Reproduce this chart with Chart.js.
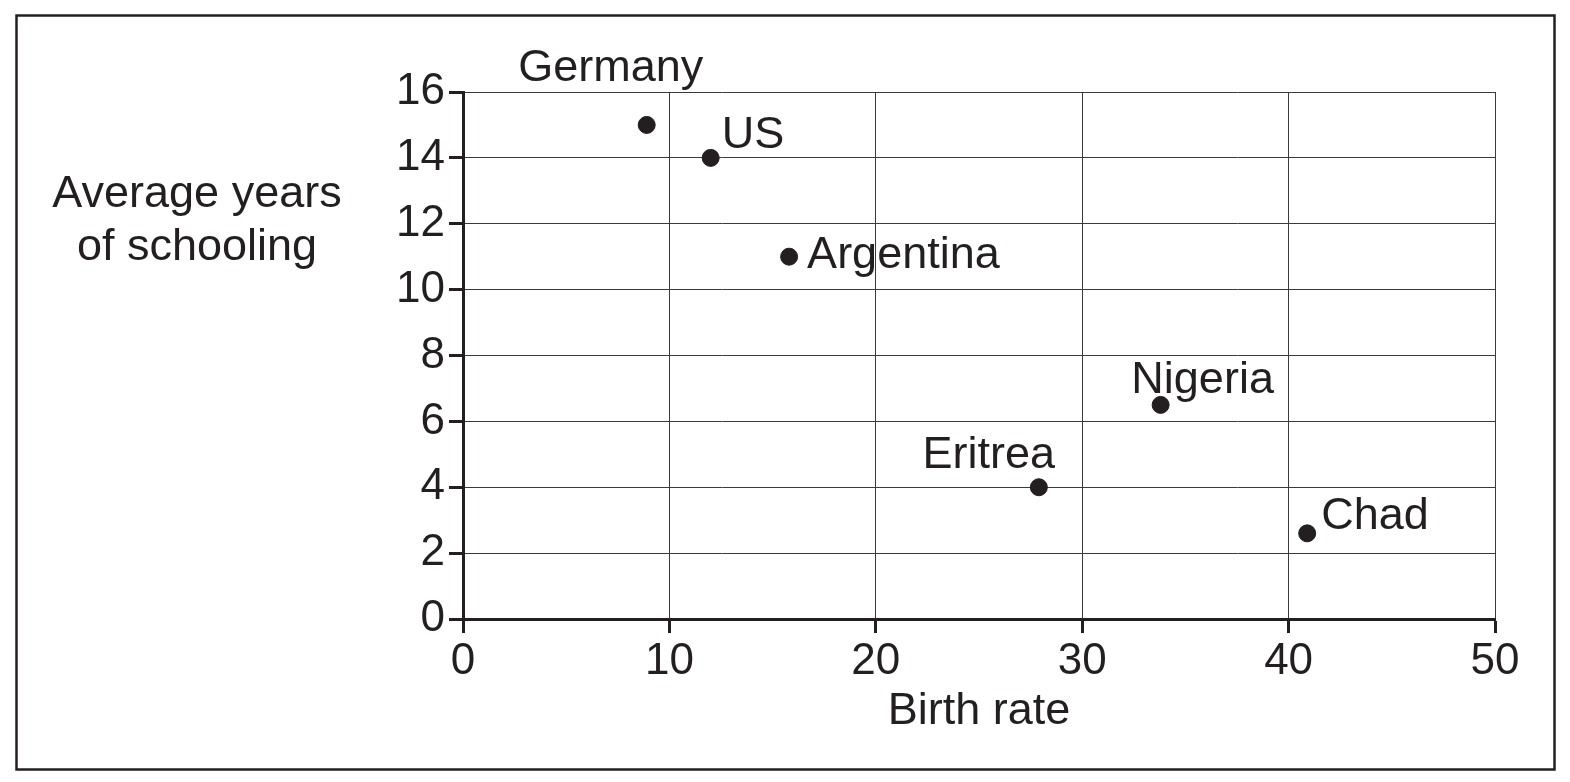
<!DOCTYPE html>
<html>
    <head>
        <title>Birth rate vs schooling</title>
        <meta charset="UTF-8">
        <script src="https://cdn.jsdelivr.net/npm/chart.js@4.4.0/dist/chart.umd.min.js"></script>
        <style>
            body { margin: 0; background: #fff; }
            #wrap { width: 1570px; height: 782px; }
        </style>
    </head>
    <body>
        <div id="wrap">
            <canvas id="scatterChart" width="1570" height="782"></canvas>
        </div>
        <script>
            // data
            const countries = ['Germany', 'US', 'Argentina', 'Eritrea', 'Nigeria', 'Chad'];
            const birthRate = [8.9, 12, 15.8, 27.9, 33.8, 40.9];
            const schooling = [15, 14, 11, 4, 6.5, 2.6];
            const xTicks = [0, 10, 20, 30, 40, 50];
            const yTicks = [0, 2, 4, 6, 8, 10, 12, 14, 16];
            const xTitle = 'Birth rate';
            const yTitle = ['Average years', 'of schooling'];

            const ink = '#231f20';
            const font = '"Liberation Sans", Arial, sans-serif';

            // label placement next to each dot: text align, dx, baseline dy (px)
            const place = {
                Germany:   ['center', -36, -44],
                US:        ['left', 11, -10],
                Argentina: ['left', 18, 11],
                Eritrea:   ['center', -50, -19],
                Nigeria:   ['center', 42, -12],
                Chad:      ['left', 14, -4]
            };

            const points = countries.map((c, i) => ({ x: birthRate[i], y: schooling[i] }));

            const extras = {
                id: 'extras',
                beforeDraw(chart) {
                    const ctx = chart.ctx;
                    ctx.save();
                    ctx.fillStyle = '#fff';
                    ctx.fillRect(0, 0, chart.width, chart.height);
                    ctx.strokeStyle = ink;
                    ctx.lineWidth = 2.5;
                    ctx.strokeRect(16.5, 15.5, 1538, 754);
                    ctx.restore();
                },
                afterDraw(chart) {
                    const ctx = chart.ctx;
                    const xs = chart.scales.x, ys = chart.scales.y;
                    ctx.save();
                    ctx.fillStyle = ink;
                    ctx.font = '45px ' + font;
                    // y title, horizontal, top left
                    ctx.textAlign = 'center';
                    ctx.textBaseline = 'middle';
                    ctx.fillText(yTitle[0], 197, 195);
                    ctx.fillText(yTitle[1], 197, 248);
                    // point labels
                    ctx.textBaseline = 'alphabetic';
                    countries.forEach((c, i) => {
                        const px = xs.getPixelForValue(birthRate[i]);
                        const py = ys.getPixelForValue(schooling[i]);
                        const p = place[c];
                        ctx.textAlign = p[0];
                        ctx.fillText(c, px + p[1], py + p[2]);
                    });
                    ctx.restore();
                }
            };

            new Chart(document.getElementById('scatterChart'), {
                type: 'scatter',
                data: {
                    datasets: [{
                        data: points,
                        pointRadius: 8.5,
                        pointHoverRadius: 8.5,
                        backgroundColor: ink,
                        borderColor: ink
                    }]
                },
                options: {
                    responsive: false,
                    animation: false,
                    events: [],
                    layout: { padding: { top: 92, right: 75, left: 0, bottom: 39 } },
                    plugins: { legend: { display: false }, tooltip: { enabled: false } },
                    scales: {
                        x: {
                            type: 'linear',
                            min: 0,
                            max: 50,
                            afterBuildTicks: s => { s.ticks = xTicks.map(v => ({ value: v })); },
                            afterFit: s => { s.height = 124; },
                            grid: { color: '#3a3a3a', lineWidth: 1, tickLength: 14, tickColor: ink, tickWidth: 3 },
                            border: { color: ink, width: 3 },
                            ticks: { color: ink, font: { family: font, size: 44 }, padding: 2 },
                            title: { display: true, text: xTitle, color: ink, font: { family: font, size: 45 }, padding: { top: 4, bottom: 4 } }
                        },
                        y: {
                            type: 'linear',
                            min: 0,
                            max: 16,
                            afterBuildTicks: s => { s.ticks = yTicks.map(v => ({ value: v })); },
                            afterFit: s => { s.width = 463; },
                            grid: { color: '#3a3a3a', lineWidth: 1, tickLength: 14, tickColor: ink, tickWidth: 3 },
                            border: { color: ink, width: 3 },
                            ticks: { color: ink, font: { family: font, size: 44 }, padding: 4 }
                        }
                    }
                },
                plugins: [extras]
            });
        </script>
    </body>
</html>
